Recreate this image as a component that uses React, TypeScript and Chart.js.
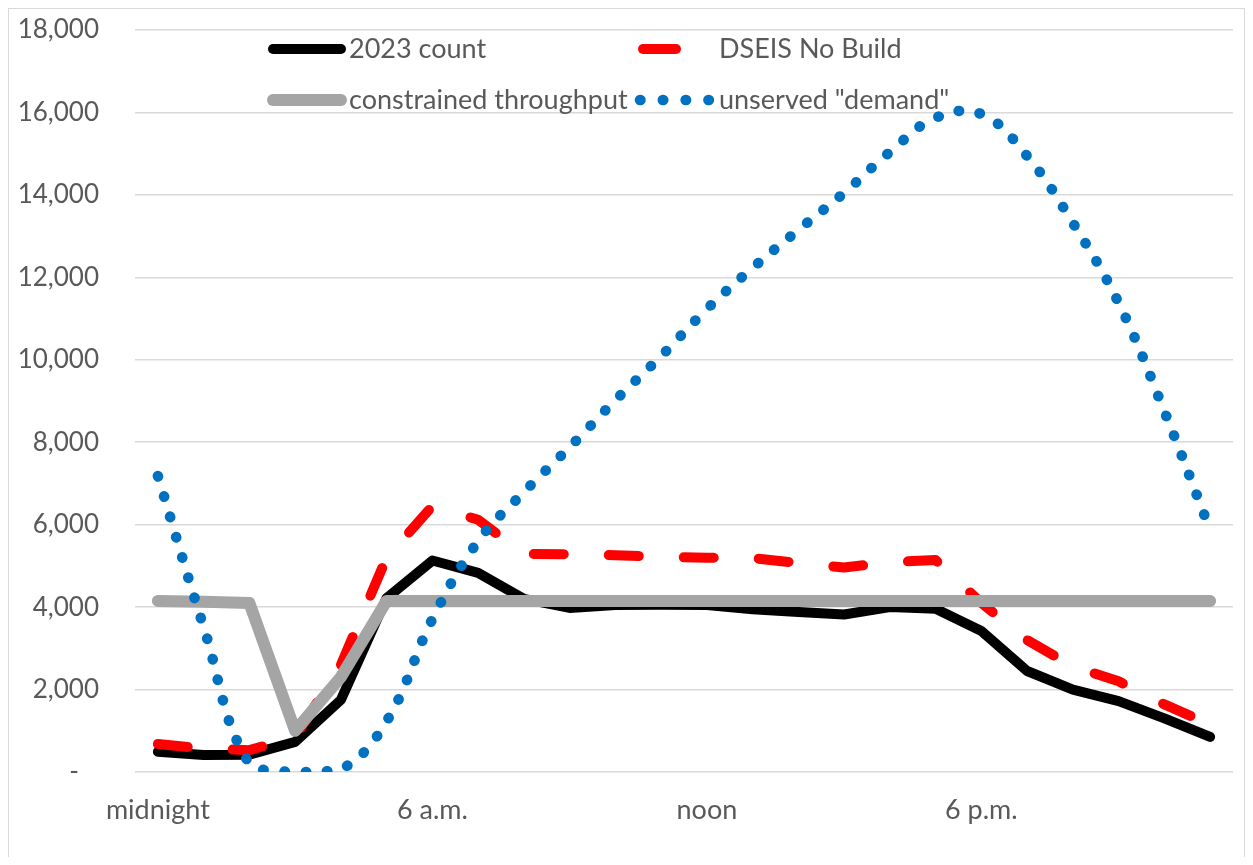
import React, { useEffect, useRef } from 'react';
import { Chart, registerables } from 'chart.js';

Chart.register(...registerables);

const hourLabels = ['midnight', '', '', '', '', '', '6 a.m.', '', '', '', '', '', 'noon', '', '', '', '', '', '6 p.m.', '', '', '', '', ''];

const count2023 = [490, 410, 420, 730, 1750, 4220, 5130, 4830, 4200, 3980, 4050, 4060, 4050, 3950, 3880, 3820, 4000, 3960, 3420, 2450, 2000, 1720, 1300, 850];
const dseisNoBuild = [680, 570, 530, 850, 2600, 5200, 6450, 6120, 5290, 5280, 5260, 5220, 5200, 5190, 5070, 4960, 5090, 5140, 4100, 3200, 2560, 2200, 1640, 1150];
const constrainedThroughput = [4150, 4130, 4100, 1000, 2300, 4150, 4150, 4150, 4150, 4150, 4150, 4150, 4150, 4150, 4150, 4150, 4150, 4150, 4150, 4150, 4150, 4150, 4150, 4150];
const unservedDemand = [7180, 3520, 200, 0, 60, 1230, 3710, 5600, 6790, 7880, 9020, 10090, 11230, 12230, 13150, 14050, 15040, 15870, 15960, 14940, 13320, 11380, 8750, 5870];

const seriesNames = ['2023 count', 'DSEIS No Build', 'constrained throughput', 'unserved "demand"'];

const FONT = 'Lato, "Open Sans", sans-serif';
const TEXT = '#595959';
const GRID = '#D9D9D9';

const legendPlugin = {
  id: 'gridLegend',
  afterDraw(chart: any) {
    const ctx = chart.ctx;
    const rows = [40, 91];
    const cols = [259, 629];
    const items = [
      { ds: 0, col: 0, row: 0 },
      { ds: 1, col: 1, row: 0 },
      { ds: 2, col: 0, row: 1 },
      { ds: 3, col: 1, row: 1 },
    ];
    items.forEach((it) => {
      const d = chart.data.datasets[it.ds];
      const x0 = cols[it.col];
      const y = rows[it.row];
      ctx.save();
      ctx.strokeStyle = d.borderColor;
      ctx.lineWidth = d.borderWidth;
      ctx.lineCap = 'round';
      ctx.beginPath();
      if (it.ds === 1) {
        ctx.setLineDash([33, 45]);
        ctx.moveTo(x0 + 5, y);
        ctx.lineTo(x0 + 77, y);
      } else if (it.ds === 3) {
        ctx.setLineDash([0.5, 22.3]);
        ctx.moveTo(x0 + 2, y);
        ctx.lineTo(x0 + 76, y);
      } else {
        ctx.setLineDash([]);
        ctx.moveTo(x0 + 5, y);
        ctx.lineTo(x0 + 73, y);
      }
      ctx.stroke();
      ctx.setLineDash([]);
      ctx.fillStyle = TEXT;
      ctx.font = '27px ' + FONT;
      ctx.textBaseline = 'middle';
      ctx.textAlign = 'left';
      ctx.fillText(seriesNames[it.ds], x0 + 81, y);
      ctx.restore();
    });
  },
};

export default function App() {
  const ref = useRef<HTMLCanvasElement>(null);
  useEffect(() => {
    const chart = new Chart(ref.current as HTMLCanvasElement, {
      type: 'line',
      data: {
        labels: hourLabels,
        datasets: [
          {
            label: seriesNames[0],
            data: count2023,
            borderColor: '#000000',
            backgroundColor: '#000000',
            borderWidth: 10,
            borderJoinStyle: 'round',
            borderCapStyle: 'round',
            pointRadius: 0,
            tension: 0,
            order: 3,
          },
          {
            label: seriesNames[1],
            data: dseisNoBuild,
            borderColor: '#FF0000',
            backgroundColor: '#FF0000',
            borderWidth: 10,
            borderDash: [30, 45],
            borderJoinStyle: 'round',
            borderCapStyle: 'round',
            pointRadius: 0,
            tension: 0,
            order: 2,
          },
          {
            label: seriesNames[2],
            data: constrainedThroughput,
            borderColor: '#A5A5A5',
            backgroundColor: '#A5A5A5',
            borderWidth: 12,
            borderJoinStyle: 'round',
            borderCapStyle: 'round',
            pointRadius: 0,
            tension: 0,
            order: 1,
          },
          {
            label: seriesNames[3],
            data: unservedDemand,
            borderColor: '#0070C0',
            backgroundColor: '#0070C0',
            borderWidth: 10.5,
            borderDash: [0.5, 20.7],
            borderCapStyle: 'round',
            borderJoinStyle: 'round',
            pointRadius: 0,
            tension: 0.4,
            order: 0,
          },
        ],
      },
      options: {
        animation: false,
        responsive: false,
        devicePixelRatio: 1,
        layout: { padding: { left: 0, right: 11, top: 21, bottom: 0 } },
        plugins: {
          legend: { display: false },
          tooltip: { enabled: false },
        },
        scales: {
          x: {
            type: 'category',
            offset: true,
            grid: { display: false, drawTicks: false },
            border: { display: false },
            ticks: {
              autoSkip: false,
              maxRotation: 0,
              padding: 22,
              color: TEXT,
              font: { family: FONT, size: 27 },
            },
            afterFit: (scale: any) => {
              scale.height = 85;
              scale.paddingLeft = 0;
              scale.paddingRight = 0;
            },
          },
          y: {
            min: 0,
            max: 18000,
            grid: { color: GRID, lineWidth: 1.5, drawTicks: false },
            border: { display: false },
            ticks: {
              stepSize: 2000,
              padding: 36,
              color: TEXT,
              font: { family: FONT, size: 26 },
              callback: (v: any) => (Number(v) === 0 ? '-   ' : Number(v).toLocaleString('en-US')),
            },
            afterFit: (scale: any) => {
              scale.width = 126;
              scale.paddingTop = 0;
              scale.paddingBottom = 0;
            },
          },
        },
      },
      plugins: [legendPlugin],
    });
    return () => chart.destroy();
  }, []);
  return (
    <div
      style={{
        width: 1235,
        height: 848,
        borderTop: '1px solid ' + GRID,
        borderLeft: '1px solid ' + GRID,
        borderRight: '1px solid ' + GRID,
        background: '#ffffff',
      }}
    >
      <canvas ref={ref} width={1235} height={848} style={{ display: 'block', width: 1235, height: 848 }} />
    </div>
  );
}
